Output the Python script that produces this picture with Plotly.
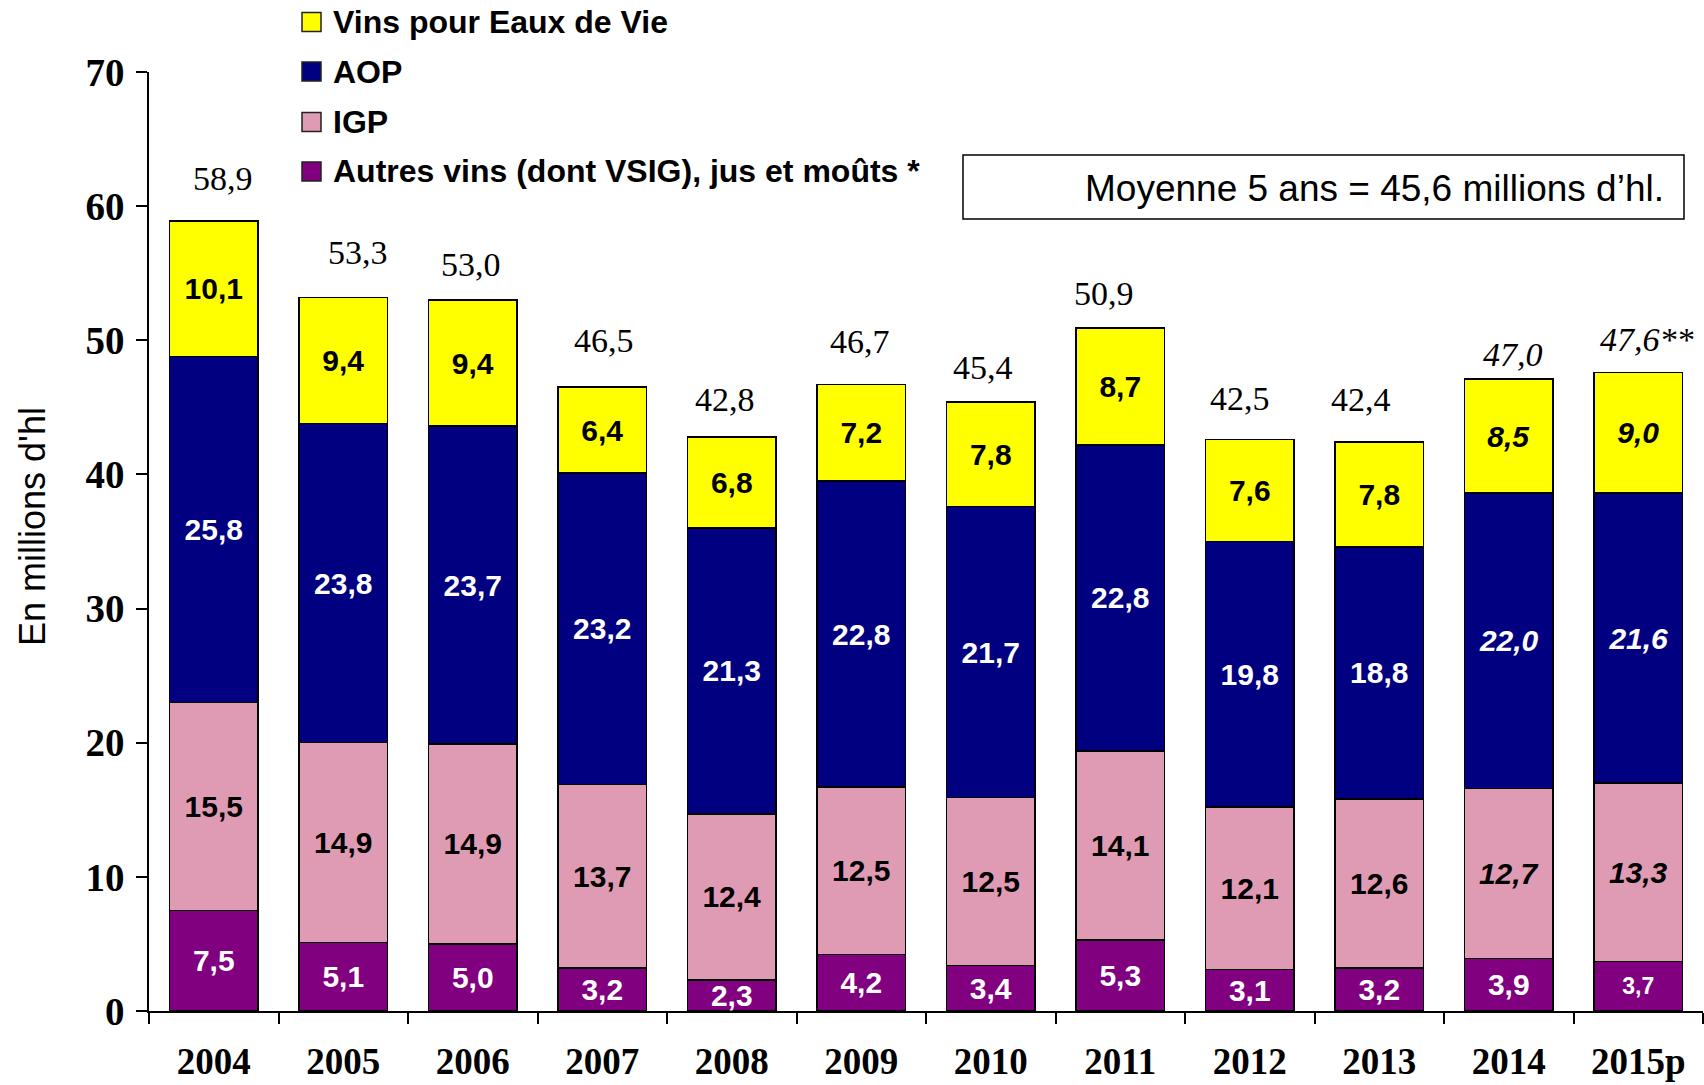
import plotly.graph_objects as go

# ---------------- data ----------------
years = ["2004", "2005", "2006", "2007", "2008", "2009", "2010", "2011", "2012", "2013", "2014", "2015p"]
autres = [7.5, 5.1, 5.0, 3.2, 2.3, 4.2, 3.4, 5.3, 3.1, 3.2, 3.9, 3.7]
igp = [15.5, 14.9, 14.9, 13.7, 12.4, 12.5, 12.5, 14.1, 12.1, 12.6, 12.7, 13.3]
aop = [25.8, 23.8, 23.7, 23.2, 21.3, 22.8, 21.7, 22.8, 19.8, 18.8, 22.0, 21.6]
vins_edv = [10.1, 9.4, 9.4, 6.4, 6.8, 7.2, 7.8, 8.7, 7.6, 7.8, 8.5, 9.0]
totals = [58.9, 53.3, 53.0, 46.5, 42.8, 46.7, 45.4, 50.9, 42.5, 42.4, 47.0, 47.6]
total_suffix = ["", "", "", "", "", "", "", "", "", "", "", "**"]
provisional = [False] * 10 + [True, True]   # 2014 & 2015p shown in italics
series_names = ["Autres vins (dont VSIG), jus et moûts *", "IGP", "AOP", "Vins pour Eaux de Vie"]
avg_text = "Moyenne 5 ans = 45,6 millions d’hl."
y_title = "En millions d'hl"
y_ticks = [0, 10, 20, 30, 40, 50, 60, 70]

# ---------------- style ----------------
W, H = 1704, 1085
ML, MR, MT, MB = 149, 1, 72, 74
PW, PH = W - ML - MR, H - MT - MB
colors = ["#800080", "#E09BB4", "#000080", "#FFFF00"]
label_colors = ["white", "black", "white", "black"]
italic_rows = [False, True, True, True]
SANS = "Liberation Sans, Arial, sans-serif"
SERIF = "Liberation Serif, Times New Roman, serif"
# per-total label offsets (px) above bar tops
tot_dy = [42, 45, 36, 47, 37, 43, 34, 35, 41, 43, 25, 33]
tot_dx = [9, 15, -2, 2, -7, -1, -8, -16, -10, -18, 4, 9]


def px2x(px):
    return (px - ML) / PW


def px2y(py):
    return (H - MB - py) / PH


def fmt(v):
    return f"{v:.1f}".replace(".", ",")


fig = go.Figure()
series = [autres, igp, aop, vins_edv]
for k, (vals, name) in enumerate(zip(series, series_names)):
    texts = []
    sizes = []
    for i, v in enumerate(vals):
        t = fmt(v)
        if provisional[i] and italic_rows[k]:
            t = f"<i>{t}</i>"
        texts.append(t)
        sizes.append(23 if (k == 0 and i == len(vals) - 1) else 30)
    fig.add_trace(go.Bar(
        x=years, y=vals, name=name,
        marker=dict(color=colors[k], line=dict(color="black", width=1.5)),
        text=texts, textposition="inside", insidetextanchor="middle",
        textangle=0, constraintext="none",
        textfont=dict(family=SANS, size=sizes, color=label_colors[k], weight="bold"),
        hoverinfo="skip", showlegend=False,
    ))

# totals above bars (x given as category index)
for i, yr in enumerate(years):
    top = autres[i] + igp[i] + aop[i] + vins_edv[i]
    t = fmt(totals[i]) + total_suffix[i]
    if provisional[i]:
        t = f"<i>{t}</i>"
    fig.add_annotation(x=i, y=top, xref="x", yref="y", text=t, showarrow=False,
                       yanchor="middle", xanchor="center", yshift=tot_dy[i], xshift=tot_dx[i],
                       font=dict(family=SERIF, size=34, color="black"))

# legend (top to bottom: stacking order reversed)
leg_y = [22, 71.5, 122, 171.5]
for j, k in enumerate([3, 2, 1, 0]):
    cy = leg_y[j]
    fig.add_shape(type="rect", xref="paper", yref="paper",
                  x0=px2x(302), x1=px2x(321), y0=px2y(cy + 9.5), y1=px2y(cy - 9.5),
                  fillcolor=colors[k], line=dict(color="#222222", width=1.5))
    fig.add_annotation(x=px2x(331), y=px2y(cy), xref="paper", yref="paper",
                       text=series_names[k], showarrow=False, xanchor="left", yanchor="middle",
                       font=dict(family=SANS, size=32, color="black", weight="bold"))

# average box
fig.add_shape(type="rect", xref="paper", yref="paper",
              x0=px2x(963), x1=px2x(1684), y0=px2y(219), y1=px2y(155),
              fillcolor="white", line=dict(color="black", width=1.5))
fig.add_annotation(x=px2x(1666), y=px2y(188), xref="paper", yref="paper",
                   text=avg_text, showarrow=False, xanchor="right", yanchor="middle",
                   font=dict(family=SANS, size=37, color="black"))

# y axis title
fig.add_annotation(x=px2x(32), y=px2y(527), xref="paper", yref="paper",
                   text=y_title, showarrow=False, textangle=-90,
                   xanchor="center", yanchor="middle",
                   font=dict(family=SANS, size=36, color="black"))

fig.update_layout(
    width=W, height=H,
    margin=dict(l=ML, r=MR, t=MT, b=MB, pad=0, autoexpand=False),
    barmode="stack", bargap=0.32,
    plot_bgcolor="white", paper_bgcolor="white",
    showlegend=False,
)
fig.update_xaxes(type="category", range=[-0.5, len(years) - 0.5], automargin=False,
                 tickson="boundaries", ticks="outside", ticklen=11,
                 tickwidth=1.5, tickcolor="black", showline=True, linecolor="black", linewidth=1.5,
                 showgrid=False, ticklabelstandoff=17, tickangle=0,
                 tickfont=dict(family=SERIF, size=37, color="black", weight="bold"))
fig.update_yaxes(range=[0, 70], tickvals=y_ticks, automargin=False, ticks="outside", ticklen=11,
                 tickwidth=1.5, tickcolor="black", showline=True, linecolor="black", linewidth=1.5,
                 showgrid=False, zeroline=False, ticklabelstandoff=4,
                 tickfont=dict(family=SERIF, size=39, color="black", weight="bold"))

fig.write_html("out.html", config={"displayModeBar": False},
               post_script="document.body.style.margin='0';document.body.style.overflow='hidden';")
